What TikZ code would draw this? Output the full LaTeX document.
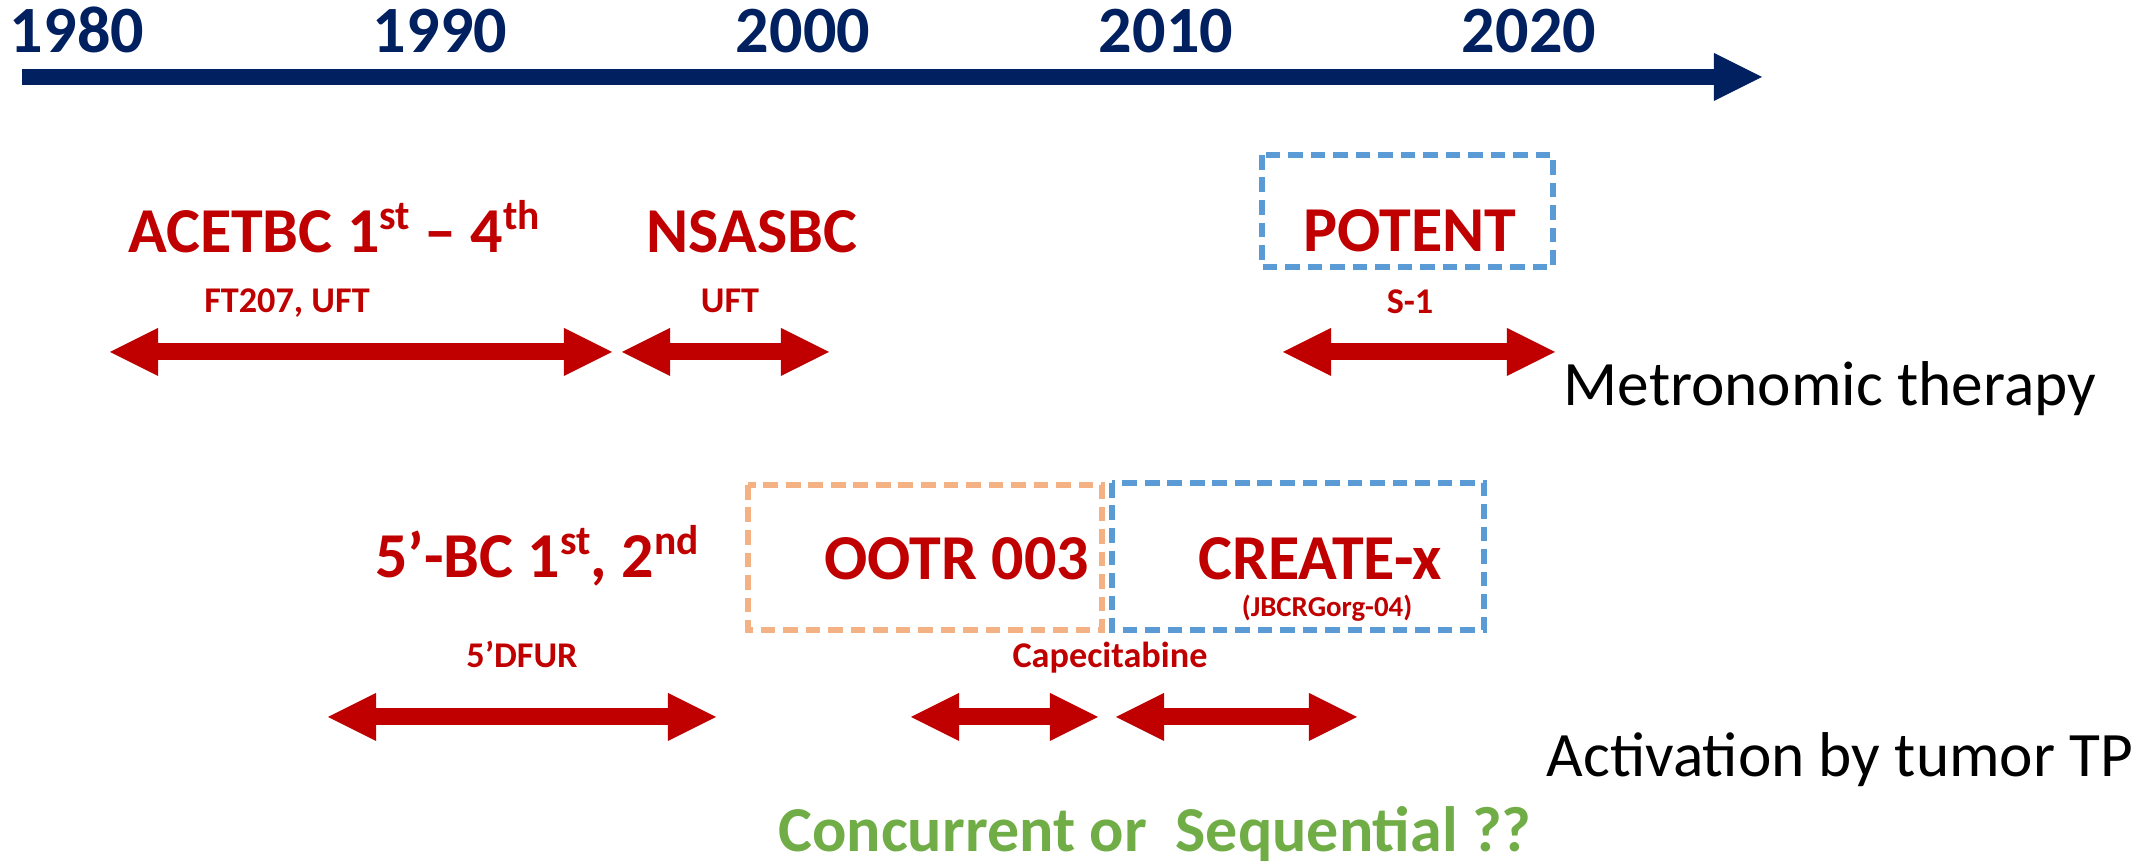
\documentclass[tikz,border=0pt]{standalone}
\usepackage{fontspec}
\setmainfont{Carlito}
\usepackage{tikz}
\usetikzlibrary{arrows.meta}

\definecolor{trialred}{HTML}{C00000}
\definecolor{axisblue}{HTML}{002060}
\definecolor{boxorange}{HTML}{F4B183}
\definecolor{boxblue}{HTML}{5B9BD5}
\definecolor{askgreen}{HTML}{70AD47}

% raised ordinal suffix
\newcommand{\ordsup}[1]{\raisebox{0.36em}{\fontsize{11.8}{12}\selectfont #1}}

\tikzset{
  year/.style={font=\fontsize{18.8}{20}\selectfont\bfseries, text=axisblue, anchor=base, inner sep=0pt},
  trial/.style={font=\fontsize{18.2}{20}\selectfont\bfseries, text=trialred, anchor=base, inner sep=0pt},
  drug/.style={font=\fontsize{10.3}{12}\selectfont\bfseries, text=trialred, anchor=base, inner sep=0pt},
  kind/.style={font=\fontsize{18}{20}\selectfont, anchor=base west, inner sep=0pt},
  bigtip/.tip={Triangle[width=0.48cm, length=0.48cm, line width=0pt]},
  span/.style={trialred, line width=0.17cm, bigtip-bigtip},
  timeline/.style={axisblue, line width=0.16cm, -bigtip},
  orangebox/.style={draw=boxorange, line width=1.5pt, dash pattern=on 4.2pt off 2.2pt},
  bluebox/.style={draw=boxblue, line width=1.5pt, dash pattern=on 4.2pt off 2.2pt}
}

\begin{document}
\begin{tikzpicture}[x=0.01cm, y=-0.01cm]
\useasboundingbox (0,0) rectangle (2147,868);

% time axis
\foreach \yr [count=\i from 0] in {1980,1990,2000,2010,2020}
  \node[year] (y\yr) at (77+363*\i, 53) {\yr};
\coordinate (tstart) at (22,77);
\coordinate (tend) at (1762,77);
\draw[timeline] (tstart) -- (tend);

% metronomic trials
\node[trial] (acetbc) at (334,253) {ACETBC 1\ordsup{st} -- 4\ordsup{th}};
\node[trial] (nsasbc) at (752,253) {NSASBC};
\node[trial] (potent) at (1410,252) {POTENT};
\draw[bluebox] (1262,155) rectangle (1553,267);
\node[drug] (ft207) at (287,313) {FT207, UFT};
\node[drug] (uft) at (730,313) {UFT};
\node[drug] (s1) at (1410,314) {S-1};

\coordinate (a1l) at (110,352); \coordinate (a1r) at (612,352);
\coordinate (a2l) at (622,352); \coordinate (a2r) at (829,352);
\coordinate (a3l) at (1283,352); \coordinate (a3r) at (1555,352);
\draw[span] (a1l) -- (a1r);
\draw[span] (a2l) -- (a2r);
\draw[span] (a3l) -- (a3r);
\node[kind] (metro) at (1563,406) {Metronomic therapy};

% TP activated trials
\node[trial] (fivebc) at (537,578) {5’-BC 1\ordsup{st}, 2\ordsup{nd}};
\draw[orangebox] (748,485) rectangle (1102,630);
\draw[bluebox] (1112,483) rectangle (1484,630);
\node[trial] (ootr) at (957,580) {OOTR 003};
\node[trial] (create) at (1320,580) {CREATE-x};
\node[drug, font=\fontsize{8.2}{10}\selectfont\bfseries] (jbcrg) at (1327,617) {(JBCRGorg-04)};
\node[drug] (dfur) at (522,668) {5’DFUR};
\node[drug] (cape) at (1110,668) {Capecitabine};

\coordinate (a4l) at (328,717); \coordinate (a4r) at (716,717);
\coordinate (a5l) at (911,717); \coordinate (a5r) at (1098,717);
\coordinate (a6l) at (1116,717); \coordinate (a6r) at (1357,717);
\draw[span] (a4l) -- (a4r);
\draw[span] (a5l) -- (a5r);
\draw[span] (a6l) -- (a6r);
\node[kind] (tpact) at (1546,777) {Activation by tumor TP};

\node[trial, text=askgreen] (question) at (1155,852) {Concurrent or\ \ Sequential ??};

\end{tikzpicture}
\end{document}
